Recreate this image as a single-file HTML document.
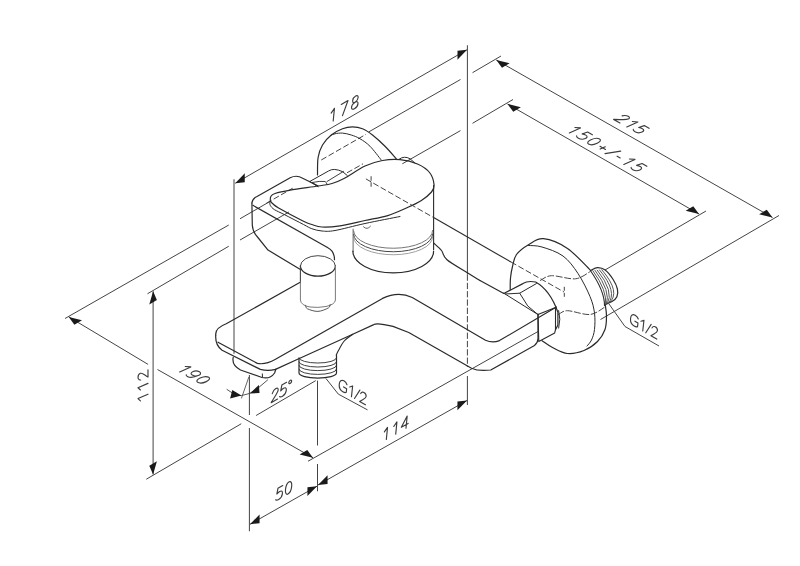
<!DOCTYPE html>
<html><head><meta charset="utf-8"><style>
html,body{margin:0;padding:0;background:#fff;width:800px;height:566px;overflow:hidden;font-family:"Liberation Sans",sans-serif}
svg{display:block;filter:grayscale(1)}
</style></head><body>
<svg width="800" height="566" viewBox="0 0 800 566" shape-rendering="geometricPrecision">
<line x1="235.25" y1="183.25" x2="467" y2="49.75" stroke="#444" stroke-width="1.0"/>
<polygon points="235.25,183.25 244.78,182.16 244.78,173.36" fill="#1a1a1a"/>
<polygon points="467,49.75 457.47,59.64 457.47,50.84" fill="#1a1a1a"/>
<line x1="467.4" y1="45.25" x2="467.4" y2="274.5" stroke="#444" stroke-width="1.0"/>
<line x1="467.4" y1="274.5" x2="467.4" y2="367" stroke="#444" stroke-width="1.0" stroke-dasharray="6.3,2"/>
<line x1="467.4" y1="376" x2="467.4" y2="405" stroke="#444" stroke-width="1.0"/>
<line x1="234" y1="179.25" x2="234" y2="353.8" stroke="#444" stroke-width="1.0"/>
<line x1="496.25" y1="60" x2="772.5" y2="217.5" stroke="#444" stroke-width="1.0"/>
<polygon points="496.25,60 509.62,63.25 502,67.65" fill="#1a1a1a"/>
<polygon points="772.5,217.5 766.75,209.85 759.13,214.25" fill="#1a1a1a"/>
<line x1="472.5" y1="72.7" x2="501" y2="56" stroke="#444" stroke-width="1.0"/>
<line x1="600.5" y1="319.5" x2="779" y2="215.5" stroke="#444" stroke-width="1.0"/>
<line x1="507.5" y1="104" x2="699" y2="214" stroke="#444" stroke-width="1.0"/>
<polygon points="507.5,104 520.85,107.28 513.23,111.68" fill="#1a1a1a"/>
<polygon points="699,214 693.27,206.32 685.65,210.72" fill="#1a1a1a"/>
<line x1="472.5" y1="123.3" x2="513" y2="99.5" stroke="#444" stroke-width="1.0"/>
<line x1="605" y1="270" x2="706" y2="211" stroke="#444" stroke-width="1.0"/>
<line x1="368.75" y1="131.9" x2="460.5" y2="79.5" stroke="#444" stroke-width="1.0"/>
<line x1="321.25" y1="160" x2="366" y2="134.3" stroke="#444" stroke-width="1.0" stroke-dasharray="6,2.5"/>
<line x1="402.3" y1="163.8" x2="460.5" y2="130.6" stroke="#444" stroke-width="1.0"/>
<line x1="68.75" y1="316.9" x2="148.1" y2="364.4" stroke="#444" stroke-width="1.0"/>
<line x1="157.5" y1="369.5" x2="313" y2="457.75" stroke="#444" stroke-width="1.0"/>
<polygon points="68.75,316.9 82,320.35 74.38,324.75" fill="#1a1a1a"/>
<polygon points="313,457.75 307.24,450.12 299.62,454.52" fill="#1a1a1a"/>
<line x1="65" y1="318.5" x2="228.75" y2="225" stroke="#444" stroke-width="1.0"/>
<line x1="240" y1="218.75" x2="270.1" y2="201.4" stroke="#444" stroke-width="1.0"/>
<line x1="266.3" y1="203.3" x2="292.7" y2="188.2" stroke="#444" stroke-width="1.0" stroke-dasharray="6,2.5"/>
<line x1="347" y1="172.8" x2="363" y2="163.8" stroke="#444" stroke-width="1.0" stroke-dasharray="6,2.5"/>
<line x1="308" y1="461.25" x2="538" y2="331.5" stroke="#444" stroke-width="1.0"/>
<line x1="153.1" y1="291.25" x2="153.1" y2="474.5" stroke="#444" stroke-width="1.0"/>
<polygon points="153.1,291.25 156.91,300.05 149.29,304.45" fill="#1a1a1a"/>
<polygon points="153.1,474.5 156.91,461.3 149.29,465.7" fill="#1a1a1a"/>
<line x1="147.5" y1="293.75" x2="228.75" y2="246.25" stroke="#444" stroke-width="1.0"/>
<line x1="240" y1="240" x2="288.9" y2="212" stroke="#444" stroke-width="1.0"/>
<line x1="146.25" y1="479.25" x2="241.25" y2="423.75" stroke="#444" stroke-width="1.0"/>
<line x1="318" y1="485" x2="467" y2="400.5" stroke="#444" stroke-width="1.0"/>
<polygon points="318,485 327.57,483.97 327.57,475.17" fill="#1a1a1a"/>
<polygon points="467,400.5 457.43,410.33 457.43,401.53" fill="#1a1a1a"/>
<line x1="317.5" y1="380.6" x2="317.5" y2="445.5" stroke="#444" stroke-width="1.0"/>
<line x1="317.5" y1="464" x2="317.5" y2="491.25" stroke="#444" stroke-width="1.0"/>
<line x1="256.1" y1="415.5" x2="315.75" y2="380.6" stroke="#444" stroke-width="1.0"/>
<line x1="250" y1="524.25" x2="317" y2="486.25" stroke="#444" stroke-width="1.0"/>
<polygon points="250,524.25 259.57,523.22 259.57,514.42" fill="#1a1a1a"/>
<polygon points="317,486.25 307.43,496.08 307.43,487.28" fill="#1a1a1a"/>
<line x1="249.4" y1="375" x2="249.4" y2="415" stroke="#444" stroke-width="1.0"/>
<line x1="249.4" y1="428" x2="249.4" y2="531.25" stroke="#444" stroke-width="1.0"/>
<polyline points="325.9,378.4 338.3,394.1 367.5,409.9" fill="none" stroke="#444" stroke-width="1.0" stroke-linejoin="round"/>
<polyline points="609,304 625,326.5 659,346" fill="none" stroke="#444" stroke-width="1.0" stroke-linejoin="round"/>
<line x1="241.4" y1="398.4" x2="248.9" y2="376.9" stroke="#555" stroke-width="0.9"/>
<path d="M227,389.5 Q236,396 241.4,395.6 L249.8,393.4 Q258,389 267.6,380" fill="none" stroke="#444" stroke-width="0.9" stroke-linecap="round" stroke-linejoin="round"/>
<polygon points="241.4,395.6 232.3,390 230.1,398.4" fill="#1a1a1a"/>
<polygon points="249.8,393.4 258.9,385 259.5,393.1" fill="#1a1a1a"/>
<path d="M331.15,113.10 L334.44,108.32 L333.19,121.04 M341.26,104.38 L347.99,100.50 L342.50,115.66 M358.12,97.52 C358.29,95.84 357.20,95.18 355.68,96.06 C354.17,96.93 352.80,99.01 352.64,100.69 C352.47,102.38 353.57,103.04 355.08,102.16 C356.60,101.29 357.96,99.21 358.12,97.52 M358.00,103.60 C358.18,101.77 356.87,101.13 355.08,102.16 C353.29,103.20 351.69,105.51 351.52,107.34 C351.34,109.17 352.64,109.81 354.43,108.78 C356.22,107.74 357.82,105.42 358.00,103.60" fill="none" stroke="#3c3c3c" stroke-width="1.15" stroke-linecap="round" stroke-linejoin="round"/>
<path d="M384.38,431.93 L387.53,427.35 L386.34,439.54 M393.78,426.50 L396.93,421.92 L395.74,434.11 M405.98,428.20 L407.17,416.01 L401.33,427.32 L408.14,423.39" fill="none" stroke="#3c3c3c" stroke-width="1.15" stroke-linecap="round" stroke-linejoin="round"/>
<path d="M282.75,485.57 L277.96,488.33 L276.84,494.04 C277.99,492.69 278.97,491.89 279.69,491.48 C281.60,490.38 282.65,491.15 282.42,493.47 C282.17,496.03 280.59,498.32 278.68,499.42 C277.25,500.25 276.23,500.26 275.72,499.75 M291.71,486.15 C292.04,482.78 290.91,480.86 289.20,481.85 C287.48,482.84 285.82,486.37 285.49,489.74 C285.16,493.10 286.29,495.03 288.00,494.04 C289.72,493.05 291.38,489.52 291.71,486.15" fill="none" stroke="#3c3c3c" stroke-width="1.15" stroke-linecap="round" stroke-linejoin="round"/>
<path d="M272.29,393.62 C273.15,390.59 275.35,388.86 275.82,388.58 C277.74,387.48 278.31,388.53 278.17,389.99 C277.92,392.55 274.57,396.78 271.16,402.78 L277.50,399.12 M286.62,382.35 L281.84,385.11 L280.72,390.82 C281.86,389.47 282.84,388.67 283.56,388.26 C285.47,387.15 286.52,387.93 286.30,390.24 C286.05,392.80 284.47,395.09 282.56,396.20 C281.12,397.03 280.11,397.04 279.59,396.53 M291.63,381.07 C291.72,380.19 291.14,379.85 290.35,380.31 C289.56,380.77 288.85,381.85 288.76,382.72 C288.68,383.60 289.25,383.94 290.04,383.48 C290.83,383.02 291.54,381.94 291.63,381.07" fill="none" stroke="#3c3c3c" stroke-width="1.15" stroke-linecap="round" stroke-linejoin="round"/>
<path d="M622.11,115.82 C625.16,115.05 627.76,116.09 628.23,116.36 C630.15,117.47 629.52,118.49 628.19,119.10 C625.84,120.16 620.51,119.38 613.61,119.42 L619.95,123.08 M632.37,121.51 L637.91,121.95 L626.76,127.01 M649.03,128.37 L644.25,125.61 L638.74,127.49 C640.49,127.81 641.67,128.26 642.38,128.67 C644.30,129.78 644.15,131.07 642.03,132.04 C639.69,133.10 636.92,132.88 635.01,131.77 C633.57,130.95 633.05,130.07 633.24,129.37" fill="none" stroke="#3c3c3c" stroke-width="1.15" stroke-linecap="round" stroke-linejoin="round"/>
<path d="M574.92,127.49 L580.47,127.93 L569.31,132.99 M592.38,134.81 L587.60,132.05 L582.09,133.93 C583.84,134.25 585.02,134.70 585.73,135.12 C587.64,136.22 587.50,137.52 585.38,138.48 C583.04,139.54 580.27,139.32 578.36,138.22 C576.92,137.39 576.40,136.51 576.59,135.81 M597.16,143.32 C600.24,141.92 601.34,139.99 599.63,139.00 C597.91,138.01 594.02,138.34 590.94,139.73 C587.86,141.13 586.76,143.07 588.47,144.06 C590.19,145.05 594.08,144.72 597.16,143.32 M599.96,146.32 L605.46,149.49 M600.15,149.07 L605.28,146.74 M605.01,153.60 L620.70,151.16 M617.09,156.21 L620.20,158.00 M629.42,158.96 L634.96,159.40 L623.81,164.46 M646.87,166.28 L642.09,163.52 L636.59,165.40 C638.33,165.71 639.51,166.17 640.23,166.58 C642.14,167.68 642.00,168.98 639.88,169.94 C637.54,171.00 634.76,170.78 632.85,169.68 C631.42,168.85 630.90,167.98 631.08,167.28" fill="none" stroke="#3c3c3c" stroke-width="1.15" stroke-linecap="round" stroke-linejoin="round"/>
<path d="M185.27,366.48 L190.81,366.92 L179.66,371.98 M198.91,375.28 C200.89,374.39 201.09,372.86 199.38,371.87 C197.66,370.88 194.67,370.80 192.70,371.70 C190.73,372.59 190.52,374.12 192.24,375.11 C193.95,376.10 196.94,376.18 198.91,375.28 M198.91,375.28 C194.68,377.21 189.90,377.90 187.39,376.45 C186.43,375.89 186.04,375.21 186.24,374.75 M206.31,381.62 C209.39,380.22 210.49,378.29 208.78,377.30 C207.06,376.31 203.17,376.64 200.09,378.03 C197.01,379.43 195.91,381.37 197.62,382.36 C199.34,383.35 203.23,383.02 206.31,381.62" fill="none" stroke="#3c3c3c" stroke-width="1.15" stroke-linecap="round" stroke-linejoin="round"/>
<path d="M346.98,384.72 C346.37,382.87 345.22,381.63 343.91,380.87 C341.39,379.42 339.59,380.91 339.26,383.94 C338.90,387.18 340.30,390.29 342.82,391.75 C344.24,392.57 345.51,392.72 346.25,392.35 L346.66,388.67 L343.59,386.90 M349.73,387.00 L352.65,385.92 L351.46,396.73 M354.50,398.49 L359.86,390.08 M360.73,393.58 C361.55,391.52 363.57,392.22 364.00,392.48 C365.76,393.49 366.27,395.16 366.13,396.46 C365.88,398.73 362.79,399.25 359.63,401.45 L365.44,404.80" fill="none" stroke="#3c3c3c" stroke-width="1.15" stroke-linecap="round" stroke-linejoin="round"/>
<path d="M638.28,319.02 C637.67,317.17 636.52,315.93 635.21,315.17 C632.69,313.72 630.89,315.21 630.56,318.24 C630.20,321.48 631.60,324.59 634.12,326.05 C635.54,326.87 636.81,327.02 637.55,326.65 L637.96,322.97 L634.89,321.20 M641.03,321.30 L643.95,320.22 L642.76,331.03 M645.80,332.79 L651.16,324.38 M652.03,327.88 C652.85,325.82 654.87,326.52 655.30,326.78 C657.06,327.79 657.57,329.46 657.43,330.76 C657.18,333.03 654.09,333.55 650.93,335.75 L656.74,339.10" fill="none" stroke="#3c3c3c" stroke-width="1.15" stroke-linecap="round" stroke-linejoin="round"/>
<path d="M140.41,400.84 L138.02,398.57 L147.98,394.20 M140.41,389.98 L138.02,387.72 L147.98,383.35 M140.61,380.00 C138.42,380.28 138.02,377.97 138.02,377.42 C138.02,375.21 139.22,373.85 140.41,373.33 C142.50,372.41 144.49,375.13 147.98,377.05 L147.98,369.73" fill="none" stroke="#3c3c3c" stroke-width="1.15" stroke-linecap="round" stroke-linejoin="round"/>
<path d="M317.5,175 C317.6,172.08 317.27,162.5 318.1,157.5 C318.93,152.5 320.31,148.75 322.5,145 C324.69,141.25 327.92,137.71 331.25,135 C334.58,132.29 338.96,130.1 342.5,128.75 C346.04,127.4 349.17,126.9 352.5,126.9 C355.83,126.9 359.17,127.4 362.5,128.75 C365.83,130.1 368.75,132.08 372.5,135 C376.25,137.92 381.04,142.29 385,146.25 C388.96,150.21 394.38,156.67 396.25,158.75" fill="none" stroke="#2a2a2a" stroke-width="1.2" stroke-linecap="round" stroke-linejoin="round"/>
<path d="M331,135.3 C331.67,135.04 333.08,134.12 335,133.75 C336.92,133.38 339.79,132.89 342.5,133.1 C345.21,133.31 348.33,134.06 351.25,135 C354.17,135.94 356.88,136.88 360,138.75 C363.12,140.62 366.46,142.71 370,146.25 C373.54,149.79 379.38,157.71 381.25,160" fill="none" stroke="#2a2a2a" stroke-width="1.0" stroke-linecap="round" stroke-linejoin="round"/>
<path d="M251.9,203 Q252.5,198.5 257,196.5 L290.2,177.8 Q296.5,174.5 302.7,178.2 L317.8,185.7" fill="none" stroke="#2a2a2a" stroke-width="1.2" stroke-linecap="round" stroke-linejoin="round"/>
<path d="M251.9,203 L252.3,225.2 Q252.8,232 257.5,237 L268,250.1 L300.4,269.4" fill="none" stroke="#2a2a2a" stroke-width="1.2" stroke-linecap="round" stroke-linejoin="round"/>
<line x1="252.5" y1="205.1" x2="327.5" y2="247.5" stroke="#2a2a2a" stroke-width="1.2"/>
<path d="M327.5,247.5 Q334.5,251 334.5,259.75" fill="none" stroke="#2a2a2a" stroke-width="1.2" stroke-linecap="round" stroke-linejoin="round"/>
<path d="M270.3,201 C270.38,200.25 270.02,197.75 270.8,196.5 C271.58,195.25 271.77,194.57 275,193.5 C278.23,192.43 283.03,191.35 290.2,190.1 C297.37,188.85 311.03,187.1 318,186 C324.97,184.9 327.67,184.75 332,183.5 C336.33,182.25 338.5,181.42 344,178.5 C349.5,175.58 358.58,169 365,166 C371.42,163 376.67,161.57 382.5,160.5 C388.33,159.43 394.17,159.02 400,159.6 C405.83,160.18 412.54,161.81 417.5,164 C422.46,166.19 426.98,169.25 429.75,172.75 C432.52,176.25 433.81,181.79 434.1,185 C434.39,188.21 433.68,189.38 431.5,192 C429.32,194.62 425.08,198.12 421,200.75 C416.92,203.38 412.54,205.28 407,207.75 C401.46,210.22 394.75,213.47 387.75,215.6 C380.75,217.72 372.96,218.8 365,220.5 C357.04,222.2 347.17,224.72 340,225.8 C332.83,226.88 326.7,227.22 322,227 C317.3,226.78 314.88,225.47 311.8,224.5 C308.72,223.53 309.03,223.97 303.5,221.2 C297.97,218.43 283.77,210.85 278.6,207.9 C273.43,204.95 273.88,204.65 272.5,203.5 C271.12,202.35 270.67,201.42 270.3,201" fill="none" stroke="#2a2a2a" stroke-width="1.2" stroke-linecap="round" stroke-linejoin="round"/>
<path d="M269.9,201.7 C269.97,202.32 269.55,204.08 270.3,205.4 C271.05,206.72 272.05,208.07 274.4,209.6 C276.75,211.13 279.55,212.12 284.4,214.6 C289.25,217.08 298.93,222.15 303.5,224.5 C308.07,226.85 308.72,227.62 311.8,228.7 C314.88,229.78 318.13,230.7 322,231 C325.87,231.3 327.83,231.75 335,230.5 C342.17,229.25 354.17,225.83 365,223.5 C375.83,221.17 394.17,217.67 400,216.5" fill="none" stroke="#2a2a2a" stroke-width="1.0" stroke-linecap="round" stroke-linejoin="round"/>
<line x1="353.1" y1="228.75" x2="353.1" y2="252" stroke="#666" stroke-width="1.0"/>
<line x1="433.6" y1="185" x2="433.6" y2="250" stroke="#2a2a2a" stroke-width="1.1"/>
<path d="M352.9,251 A40.35,21.9 0 0 0 433.6,251" fill="none" stroke="#2a2a2a" stroke-width="1.2" stroke-linecap="round" stroke-linejoin="round"/>
<path d="M353.6,231 A39.5,17.5 0 0 0 432.6,230.5" fill="none" stroke="#666" stroke-width="0.9" stroke-linecap="round" stroke-linejoin="round"/>
<path d="M353.6,234.5 A39.5,17.5 0 0 0 432.6,234" fill="none" stroke="#444" stroke-width="1.0" stroke-linecap="round" stroke-linejoin="round"/>
<path d="M353.6,237.5 A39.5,17.5 0 0 0 432.6,237" fill="none" stroke="#888" stroke-width="0.8" stroke-linecap="round" stroke-linejoin="round"/>
<path d="M300.4,265.9 A17.5,10.2 0 0 1 335.4,265.9" fill="none" stroke="#444" stroke-width="1.0" stroke-linecap="round" stroke-linejoin="round"/>
<path d="M335.4,265.9 A17.5,10.2 0 0 1 300.4,265.9" fill="none" stroke="#2a2a2a" stroke-width="1.2" stroke-linecap="round" stroke-linejoin="round"/>
<path d="M300.4,265.9 L300.4,282" fill="none" stroke="#444" stroke-width="1.1" stroke-linecap="round" stroke-linejoin="round"/>
<path d="M300.4,282 L300.4,300 Q301,305.5 310,307 Q317.9,308 326,306.5 Q335,304.5 335.4,300 L335.4,265.9" fill="none" stroke="#7a7a7a" stroke-width="1.0" stroke-linecap="round" stroke-linejoin="round"/>
<path d="M305.6,305.25 C305.9,305.83 305.35,307.73 307.4,308.75 C309.45,309.77 314.4,311.54 317.9,311.4 C321.4,311.26 326.37,309.07 328.4,307.9 C330.43,306.73 329.82,304.98 330.1,304.4" fill="none" stroke="#555" stroke-width="1.0" stroke-linecap="round" stroke-linejoin="round"/>
<line x1="433.6" y1="217.6" x2="511" y2="262" stroke="#2a2a2a" stroke-width="1.1"/>
<line x1="511" y1="262" x2="564" y2="292" stroke="#444" stroke-width="1.0" stroke-dasharray="6,2.5"/>
<path d="M433.6,243 C434.92,244.25 439.27,247.7 441.5,250.5 C443.73,253.3 442.62,256.05 447,259.8 C451.38,263.55 462.25,269.55 467.75,273 C473.25,276.45 477.96,279.25 480,280.5" fill="none" stroke="#2a2a2a" stroke-width="1.2" stroke-linecap="round" stroke-linejoin="round"/>
<path d="M215.75,335 Q215,328 226.25,323.75 L299.75,282.6" fill="none" stroke="#2a2a2a" stroke-width="1.2" stroke-linecap="round" stroke-linejoin="round"/>
<path d="M218,342.2 L257.4,363.4 Q265.5,365 275.5,359.3 L382.5,298.4 Q398.25,291 412.25,297.5 L485.5,340.25 Q492.5,343.5 499.5,340.6 L556.4,307" fill="none" stroke="#2a2a2a" stroke-width="1.2" stroke-linecap="round" stroke-linejoin="round"/>
<path d="M215.75,335 Q215,345 222.1,350.3 L260.4,369.4 Q268,371.5 275.5,369.4 L298.75,358.75 L352.75,334.25 L373.75,324.6 Q377.25,322.5 393,326.4 L408.75,332.5 L471.5,368.25 Q478.5,371.5 490.75,370 L534.5,345.5 Q538,342.5 538,338.5 L538,314" fill="none" stroke="#2a2a2a" stroke-width="1.2" stroke-linecap="round" stroke-linejoin="round"/>
<path d="M352.75,334.25 C351.29,335.42 346.33,338.62 344,341.25 C341.67,343.88 340.04,347.71 338.75,350 C337.46,352.29 336.67,354.17 336.25,355" fill="none" stroke="#2a2a2a" stroke-width="1.1" stroke-linecap="round" stroke-linejoin="round"/>
<path d="M233.2,357.3 Q231.5,365 240.5,370 L262,377.5 Q270,379.5 274.6,373 L275.9,369" fill="none" stroke="#2a2a2a" stroke-width="1.2" stroke-linecap="round" stroke-linejoin="round"/>
<line x1="262.3" y1="373.5" x2="262.5" y2="377.5" stroke="#2a2a2a" stroke-width="1.0"/>
<path d="M299,358 A18.75,5 0 0 0 336.5,358" fill="none" stroke="#2a2a2a" stroke-width="0.9" stroke-linecap="round" stroke-linejoin="round"/>
<path d="M299,362 A18.75,5 0 0 0 336.5,362" fill="none" stroke="#2a2a2a" stroke-width="0.9" stroke-linecap="round" stroke-linejoin="round"/>
<path d="M299,365.6 A18.75,5 0 0 0 336.5,365.6" fill="none" stroke="#2a2a2a" stroke-width="0.9" stroke-linecap="round" stroke-linejoin="round"/>
<path d="M299,369.4 A18.75,5 0 0 0 336.5,369.4" fill="none" stroke="#2a2a2a" stroke-width="0.9" stroke-linecap="round" stroke-linejoin="round"/>
<path d="M299,358 L299,373.1 A18.75,5 0 0 0 336.5,373.1 L336.5,355" fill="none" stroke="#2a2a2a" stroke-width="1.2" stroke-linecap="round" stroke-linejoin="round"/>
<path d="M510.2,290 C510.25,288 510.1,282 510.5,278 C510.9,274 511.6,269.92 512.6,266 C513.6,262.08 513.85,258.05 516.5,254.5 C519.15,250.95 524,247.33 528.5,244.7 C533,242.07 537,238.07 543.5,238.7 C550,239.33 559.63,243.2 567.5,248.5 C575.37,253.8 586.83,266.83 590.7,270.5" fill="none" stroke="#2a2a2a" stroke-width="1.2" stroke-linecap="round" stroke-linejoin="round"/>
<path d="M605.2,304.5 C605.42,306.42 606.53,311.83 606.5,316 C606.47,320.17 606.5,325.25 605,329.5 C603.5,333.75 601,338 597.5,341.5 C594,345 589,348.5 584,350.5 C579,352.5 572.75,354 567.5,353.5 C562.25,353 556.75,349.63 552.5,347.5 C548.25,345.37 543.75,341.83 542,340.7" fill="none" stroke="#2a2a2a" stroke-width="1.2" stroke-linecap="round" stroke-linejoin="round"/>
<path d="M528.5,245.5 C530.75,245.75 536.25,245.25 542,247 C547.75,248.75 557,251.58 563,256 C569,260.42 573.5,266.75 578,273.5 C582.5,280.25 587.25,289.92 590,296.5 C592.75,303.08 593.75,307.5 594.5,313 C595.25,318.5 595,325 594.5,329.5 C594,334 592.75,337.25 591.5,340 C590.25,342.75 587.75,345 587,346" fill="none" stroke="#2a2a2a" stroke-width="1.0" stroke-linecap="round" stroke-linejoin="round"/>
<path d="M540.4,280.4 C542.25,279.62 545.67,275.97 551.5,275.7 C557.33,275.43 568.98,279.47 575.4,278.8 C581.82,278.13 587.57,272.88 590,271.7" fill="none" stroke="#444" stroke-width="1.0" stroke-linecap="round" stroke-linejoin="round" stroke-dasharray="6,2.5"/>
<path d="M558.5,314.5 C560,313.87 562.25,310.7 567.5,310.7 C572.75,310.7 583.75,315.12 590,314.5 C596.25,313.88 602.5,308.25 605,307" fill="none" stroke="#444" stroke-width="1.0" stroke-linecap="round" stroke-linejoin="round" stroke-dasharray="6,2.5"/>
<line x1="564.3" y1="286.8" x2="564.3" y2="297.9" stroke="#444" stroke-width="1.0" stroke-dasharray="4,2"/>
<path d="M590.7,270.5 C591.83,270.02 595.08,267.68 597.5,267.6 C599.92,267.52 602.62,268.05 605.2,270 C607.78,271.95 610.97,276.13 613,279.3 C615.03,282.47 616.75,286.1 617.4,289 C618.05,291.9 617.8,294.6 616.9,296.7 C616,298.8 613.95,300.3 612,301.6 C610.05,302.9 606.33,304.02 605.2,304.5" fill="none" stroke="#2a2a2a" stroke-width="1.2" stroke-linecap="round" stroke-linejoin="round"/>
<path d="M590.5,270.8 Q604.5,290.85 604.5,305.5" fill="none" stroke="#2a2a2a" stroke-width="1.1" stroke-linecap="round" stroke-linejoin="round"/>
<path d="M592.75,270.58 Q607.92,291.21 605.42,305" fill="none" stroke="#444" stroke-width="0.9" stroke-linecap="round" stroke-linejoin="round"/>
<path d="M595,270.37 Q611.33,291.57 606.33,304.5" fill="none" stroke="#444" stroke-width="0.9" stroke-linecap="round" stroke-linejoin="round"/>
<path d="M597.25,270.15 Q614.75,291.93 607.25,304" fill="none" stroke="#444" stroke-width="0.9" stroke-linecap="round" stroke-linejoin="round"/>
<path d="M599.5,269.93 Q618.17,292.28 608.17,303.5" fill="none" stroke="#444" stroke-width="0.9" stroke-linecap="round" stroke-linejoin="round"/>
<path d="M601.75,269.72 Q621.58,292.64 609.08,303" fill="none" stroke="#444" stroke-width="0.9" stroke-linecap="round" stroke-linejoin="round"/>
<path d="M480,280.5 L503.8,293.5 L522.9,283.6 Q527.7,280.5 535.6,282 Q550,290 557.9,312.2 L557.9,325 L555.5,329.7" fill="none" stroke="#2a2a2a" stroke-width="1.2" stroke-linecap="round" stroke-linejoin="round"/>
<path d="M505.4,294 L519.7,293.2 L536.4,283.6" fill="none" stroke="#2a2a2a" stroke-width="1.0" stroke-linecap="round" stroke-linejoin="round"/>
<path d="M519.7,293.2 L527.7,305.9 L538,314.6" fill="none" stroke="#2a2a2a" stroke-width="1.0" stroke-linecap="round" stroke-linejoin="round"/>
<path d="M503.8,293.2 L538,314.6" fill="none" stroke="#2a2a2a" stroke-width="1.0" stroke-linecap="round" stroke-linejoin="round"/>
<path d="M538,314.6 L555.5,307.5 L555.5,329.7 L554.7,332.9 L538.8,341.6 L538,314.6" fill="none" stroke="#2a2a2a" stroke-width="1.1" stroke-linecap="round" stroke-linejoin="round"/>
<path d="M558.7,310.6 Q561,319 558.7,328.1" fill="none" stroke="#2a2a2a" stroke-width="1.0" stroke-linecap="round" stroke-linejoin="round"/>
<path d="M309.75,181.5 L328.5,171 Q333.75,167.5 342.75,171.75 L347.25,175.5" fill="none" stroke="#2a2a2a" stroke-width="1.0" stroke-linecap="round" stroke-linejoin="round"/>
<path d="M312,182.5 Q320,180.8 325,181.5 Q327,182.5 327,184.5" fill="none" stroke="#2a2a2a" stroke-width="0.9" stroke-linecap="round" stroke-linejoin="round"/>
<path d="M313,183 Q315.5,185.5 318,186.2" fill="none" stroke="#2a2a2a" stroke-width="0.8" stroke-linecap="round" stroke-linejoin="round"/>
<path d="M327,181.5 L343.5,171.4" fill="none" stroke="#2a2a2a" stroke-width="0.9" stroke-linecap="round" stroke-linejoin="round"/>
<path d="M309.75,181.5 L318,186.75" fill="none" stroke="#2a2a2a" stroke-width="0.9" stroke-linecap="round" stroke-linejoin="round"/>
<path d="M399.4,159 Q404.4,155.5 410,158.75 L415,163.1" fill="none" stroke="#2a2a2a" stroke-width="1.0" stroke-linecap="round" stroke-linejoin="round"/>
<line x1="365.9" y1="178.9" x2="433.25" y2="217.4" stroke="#444" stroke-width="1.0" stroke-dasharray="6,2.5"/>
<line x1="371.1" y1="176.25" x2="371.1" y2="187" stroke="#444" stroke-width="1.0" stroke-dasharray="4.5,1.5"/>
<path d="M363.5,226.8 Q367,230.5 370.5,226.2" fill="none" stroke="#555" stroke-width="0.9" stroke-linecap="round" stroke-linejoin="round"/>
</svg>
</body></html>
